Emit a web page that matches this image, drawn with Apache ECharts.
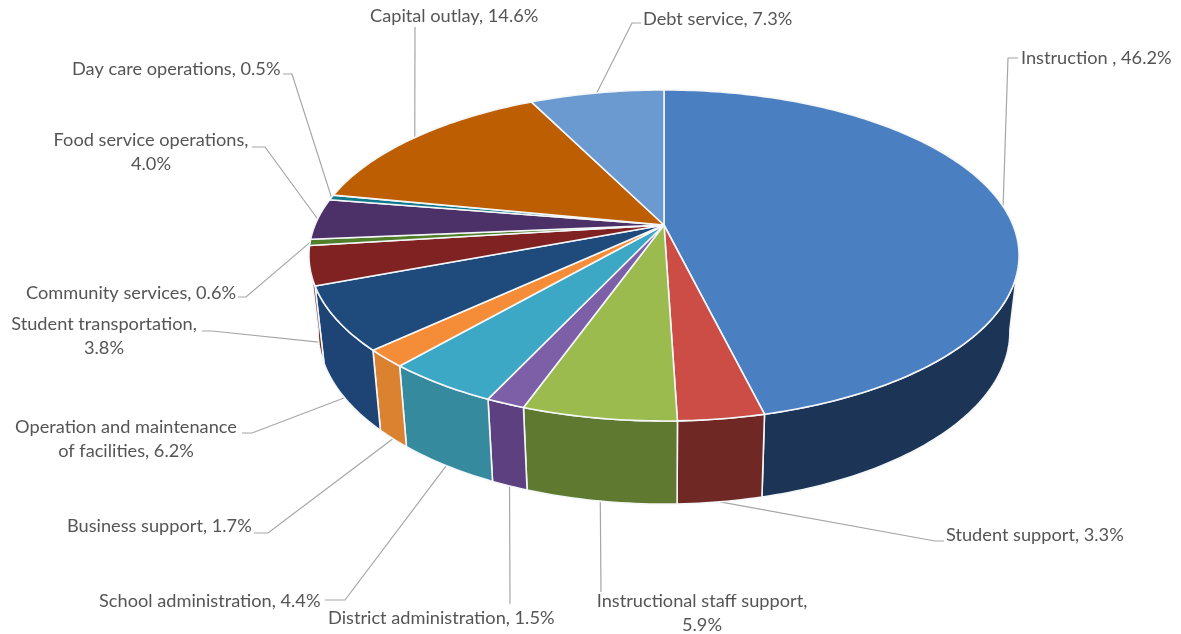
<!DOCTYPE html>
<html>
<head>
<meta charset="utf-8">
<style>html,body{margin:0;padding:0;background:#fff}#chart{width:1181px;height:634px}</style>
<script src="https://cdn.jsdelivr.net/npm/echarts@6/dist/echarts.min.js"></script>
</head>
<body>
<div id="chart"></div>
<script>
// Share of spending by function, clockwise from twelve o'clock.
const categories = ['Instruction ', 'Student support', 'Instructional staff support', 'District administration',
  'School administration', 'Business support', 'Operation and maintenance\nof facilities', 'Student transportation',
  'Community services', 'Food service operations', 'Day care operations', 'Capital outlay', 'Debt service'];
const shares = [46.2, 3.3, 5.9, 1.5, 4.4, 1.7, 6.2, 3.8, 0.6, 4.0, 0.5, 14.6, 7.3];
const topColors = ['#4a80c2', '#cb4d45', '#9bbb4f', '#7d5fa8', '#3da8c6', '#f58d38', '#1f4a7c',
  '#7f2221', '#4f7f2a', '#4c3068', '#12788c', '#bd5e02', '#6a9ad0'];
const wallColors = ['#1c3557', '#6f2824', '#5f7a30', '#5c4080', '#358a9e', '#da8230', '#1e4476',
  '#6e2220', '#40651f', '#3d2654', '#0e6070', '#964a02', '#54789f'];
// Percent values wrapped onto a second line after the comma.
const wrappedLabels = [2, 7, 9];

// Perspective projection of the disc: the rim of each face maps to an ellipse whose
// centre differs from the projected apex.
const faces = {
  top: { cx: 664, cy: 225, ax: 349, by: 159.9, k: 0.184 },
  bottom: { cx: 664, cy: 299.8, ax: 340, by: 166.7, k: 0.184 }
};
// The outer wall is visible between the two silhouette rulings.
const WALL_FROM = 100, WALL_TO = 260;

// Leader bend, label anchor and text alignment per slice.
const labelLayout = [
  { path: [[1008, 58], [1018, 58]], at: [1021, 58.5], align: 'left' },
  { path: [[935, 541], [944, 541]], at: [946, 535.5], align: 'left' },
  { path: [[601, 592]], at: [702, 613.5], align: 'center' },
  { path: [[510, 604]], at: [328, 618.5], align: 'left' },
  { path: [[345, 600], [325, 600]], at: [99, 601.5], align: 'left' },
  { path: [[268, 533], [254, 533]], at: [67, 526.5], align: 'left' },
  { path: [[252, 433], [242, 433]], at: [126, 439.5], align: 'center' },
  { path: [[212, 331], [202, 331]], at: [104, 336.5], align: 'center' },
  { path: [[246, 297], [238, 297]], at: [26, 293.5], align: 'left' },
  { path: [[265, 147], [252, 147]], at: [151, 152.5], align: 'center' },
  { path: [[292, 74], [283, 74]], at: [72, 69.5], align: 'left' },
  { path: [[415, 27]], at: [370, 16.5], align: 'left' },
  { path: [[632, 23], [641, 23]], at: [643, 19.5], align: 'left' }
];

function project(face, deg) {
  const a = deg * Math.PI / 180, u = Math.sin(a), v = -Math.cos(a), d = 1 - face.k * v;
  return [face.cx + face.ax * u / d, face.cy + face.by * v / d];
}
function arc(face, from, to) {
  const n = Math.max(2, Math.ceil(to - from)), pts = [];
  for (let i = 0; i <= n; i++) pts.push(project(face, from + (to - from) * i / n));
  return pts;
}

let running = 0;
const sliceData = shares.map((v, i) => {
  const item = { name: categories[i], value: [running, v] };
  running += v;
  return item;
});
const span = (api) => [api.value(0) * 3.6, (api.value(0) + api.value(1)) * 3.6];

function renderWall(params, api) {
  const [s, e] = span(api);
  const from = Math.max(s, WALL_FROM), to = Math.min(e, WALL_TO);
  if (to <= from) return null;
  return {
    type: 'polygon',
    shape: { points: arc(faces.top, from, to).concat(arc(faces.bottom, from, to).reverse()) },
    style: { fill: wallColors[params.dataIndex], stroke: '#f4f6f8', lineWidth: 1.6, lineJoin: 'round' }
  };
}
function renderTop(params, api) {
  const [s, e] = span(api);
  return {
    type: 'polygon',
    shape: { points: [[faces.top.cx, faces.top.cy]].concat(arc(faces.top, s, e)) },
    style: { fill: topColors[params.dataIndex], stroke: '#f4f6f8', lineWidth: 1.6, lineJoin: 'round' }
  };
}
function renderLabel(params, api) {
  const [s, e] = span(api), mid = (s + e) / 2, i = params.dataIndex, lay = labelLayout[i];
  const face = mid > 100 && mid < 260 ? faces.bottom : faces.top;
  const sep = wrappedLabels.includes(i) ? ',\n' : ', ';
  return {
    type: 'group',
    children: [
      {
        type: 'polyline',
        shape: { points: [project(face, mid)].concat(lay.path) },
        style: { fill: null, stroke: '#a6a6a6', lineWidth: 1.2 }
      },
      {
        type: 'text',
        style: {
          x: lay.at[0], y: lay.at[1],
          text: categories[i] + sep + api.value(1).toFixed(1) + '%',
          fill: '#555555', font: '18.2px Lato', align: lay.align, verticalAlign: 'middle', lineHeight: 24
        }
      }
    ]
  };
}

const chart = echarts.init(document.getElementById('chart'), null, { renderer: 'canvas' });
chart.setOption({
  animation: false,
  backgroundColor: '#ffffff',
  series: [
    { type: 'custom', coordinateSystem: 'none', silent: true, z: 1, data: sliceData, renderItem: renderLabel },
    { type: 'custom', coordinateSystem: 'none', silent: true, z: 2, data: sliceData, renderItem: renderWall },
    { type: 'custom', coordinateSystem: 'none', silent: true, z: 3, data: sliceData, renderItem: renderTop }
  ]
});
</script>
</body>
</html>
